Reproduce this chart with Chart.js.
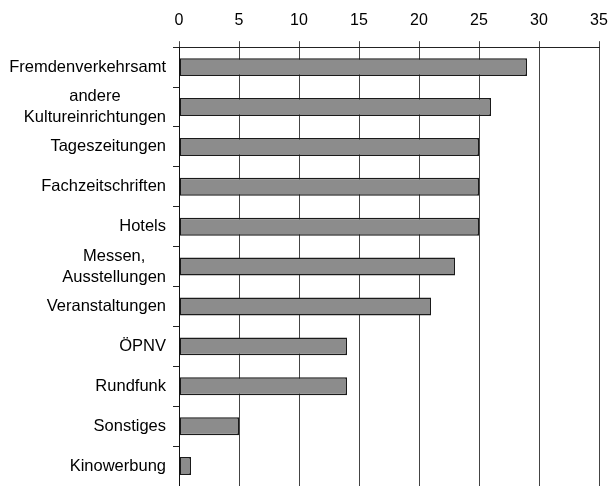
<!DOCTYPE html>
<html>
<head>
<meta charset="utf-8">
<script src="https://cdn.jsdelivr.net/npm/chart.js@4"></script>
<style>
  html, body { margin: 0; padding: 0; background: #fff; }
  #wrap { width: 610px; height: 486px; }
</style>
</head>
<body>
<div id="wrap"><canvas id="c"></canvas></div>
<script>
const LABELS = [
  'Fremdenverkehrsamt',
  ['andere', 'Kultureinrichtungen'],
  'Tageszeitungen',
  'Fachzeitschriften',
  'Hotels',
  ['Messen,', 'Ausstellungen'],
  'Veranstaltungen',
  'ÖPNV',
  'Rundfunk',
  'Sonstiges',
  'Kinowerbung'
];
const VALUES = [29, 26, 25, 25, 25, 23, 21, 14, 14, 5, 1];
const X_MIN = 0, X_MAX = 35, X_STEP = 5;

const FONT = '"Liberation Sans", Arial, sans-serif';
const LABEL_SIZE = 16.5;

// category labels: single lines right-aligned, multi-line blocks centred within themselves
const catLabels = {
  id: 'catLabels',
  afterDraw(chart) {
    const ctx = chart.ctx, y = chart.scales.y;
    const right = y.right - 13;
    const lh = LABEL_SIZE * 1.28;
    ctx.save();
    ctx.fillStyle = '#000';
    ctx.font = LABEL_SIZE + 'px ' + FONT;
    ctx.textBaseline = 'middle';
    chart.data.labels.forEach((lab, i) => {
      const cy = y.getPixelForValue(i);
      const lines = Array.isArray(lab) ? lab : [lab];
      const widest = Math.max(...lines.map(s => ctx.measureText(s).width));
      ctx.textAlign = 'center';
      const cx = right - widest / 2;
      lines.forEach((s, k) => {
        ctx.fillText(s, cx, cy + (k - (lines.length - 1) / 2) * lh);
      });
    });
    ctx.restore();
  }
};

new Chart(document.getElementById('c'), {
  type: 'bar',
  data: {
    labels: LABELS,
    datasets: [{
      data: VALUES,
      backgroundColor: '#8c8c8c',
      borderColor: '#1a1a1a',
      borderWidth: 1.5,
      borderSkipped: false,
      barPercentage: 0.45,
      categoryPercentage: 1
    }]
  },
  options: {
    indexAxis: 'y',
    responsive: true,
    maintainAspectRatio: false,
    animation: false,
    layout: { padding: { top: 0, right: 11, bottom: 0, left: 0 } },
    plugins: { legend: { display: false }, tooltip: { enabled: false } },
    scales: {
      x: {
        position: 'top',
        min: X_MIN, max: X_MAX,
        afterFit(scale) { scale.paddingRight = 0; },
        ticks: { stepSize: X_STEP, color: '#000', padding: 11, font: { family: FONT, size: 16 } },
        grid: { color: '#444', lineWidth: 1, tickLength: 6, tickColor: '#444' },
        border: { color: '#222', width: 1 }
      },
      y: {
        afterFit(scale) { scale.width = 179; },
        ticks: { display: false },
        grid: { drawOnChartArea: false, offset: true, tickLength: 6, color: '#222' },
        border: { color: '#111', width: 1 }
      }
    }
  },
  plugins: [catLabels]
});
</script>
</body>
</html>
